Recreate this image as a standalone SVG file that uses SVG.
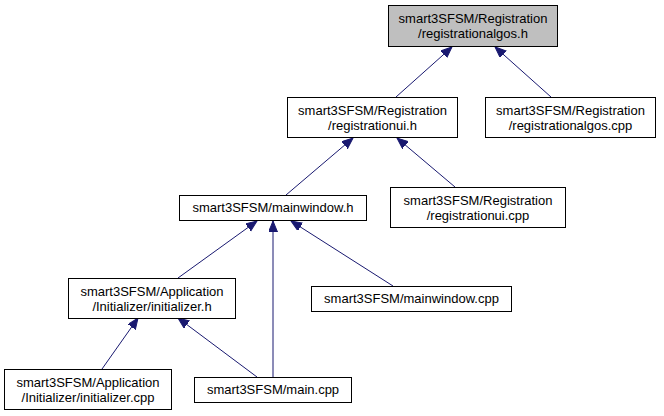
<svg xmlns="http://www.w3.org/2000/svg" width="664" height="416" viewBox="0 0 664 416">
<style>
.box{fill:#ffffff;stroke:#000000;stroke-width:1}
.hl{fill:#bfbfbf}
text{font-family:"Liberation Sans",Arial,sans-serif;font-size:13px;fill:#000000;text-anchor:middle}
.edge{stroke:#191970;stroke-width:1;fill:none;marker-end:url(#arr)}
</style>
<defs>
<marker id="arr" markerUnits="userSpaceOnUse" markerWidth="12" markerHeight="10" refX="11" refY="4.5" orient="auto">
<path d="M0,0 L11,4.5 L0,9 z" fill="#191970" stroke="#191970" stroke-width="1"/>
</marker>
</defs>
<rect width="664" height="416" fill="#ffffff"/>
<g id="connectors">
<line class="edge" x1="396" y1="97" x2="452" y2="47"/>
<line class="edge" x1="551" y1="97" x2="495" y2="47"/>
<line class="edge" x1="286" y1="195" x2="353" y2="138"/>
<line class="edge" x1="455" y1="187" x2="397" y2="138"/>
<line class="edge" x1="178" y1="278" x2="257" y2="221"/>
<line class="edge" x1="273" y1="377" x2="273" y2="221"/>
<line class="edge" x1="393" y1="286" x2="291" y2="221"/>
<line class="edge" x1="102" y1="369" x2="138" y2="318"/>
<line class="edge" x1="257" y1="377" x2="178" y2="318"/>
</g>
<g id="n1">
<rect class="box hl" x="388.5" y="5.5" width="169" height="41"/>
<text x="473" y="23">smart3SFSM/Registration</text>
<text x="473" y="38">/registrationalgos.h</text>
</g>
<g id="n2">
<rect class="box" x="287.5" y="97.5" width="170" height="40"/>
<text x="372.5" y="115">smart3SFSM/Registration</text>
<text x="372.5" y="130">/registrationui.h</text>
</g>
<g id="n3">
<rect class="box" x="485.5" y="97.5" width="170" height="40"/>
<text x="570.5" y="115">smart3SFSM/Registration</text>
<text x="570.5" y="130">/registrationalgos.cpp</text>
</g>
<g id="n4">
<rect class="box" x="179.5" y="195.5" width="187" height="25"/>
<text x="273" y="212">smart3SFSM/mainwindow.h</text>
</g>
<g id="n5">
<rect class="box" x="390.5" y="187.5" width="175" height="40"/>
<text x="478" y="205">smart3SFSM/Registration</text>
<text x="478" y="220">/registrationui.cpp</text>
</g>
<g id="n6">
<rect class="box" x="68.5" y="278.5" width="167" height="40"/>
<text x="152" y="296">smart3SFSM/Application</text>
<text x="152" y="311">/Initializer/initializer.h</text>
</g>
<g id="n7">
<rect class="box" x="311.5" y="286.5" width="200" height="25"/>
<text x="411.5" y="303">smart3SFSM/mainwindow.cpp</text>
</g>
<g id="n8">
<rect class="box" x="4.5" y="369.5" width="167" height="40"/>
<text x="88" y="387">smart3SFSM/Application</text>
<text x="88" y="402">/Initializer/initializer.cpp</text>
</g>
<g id="n9">
<rect class="box" x="194.5" y="377.5" width="157" height="25"/>
<text x="273" y="394">smart3SFSM/main.cpp</text>
</g>
</svg>
